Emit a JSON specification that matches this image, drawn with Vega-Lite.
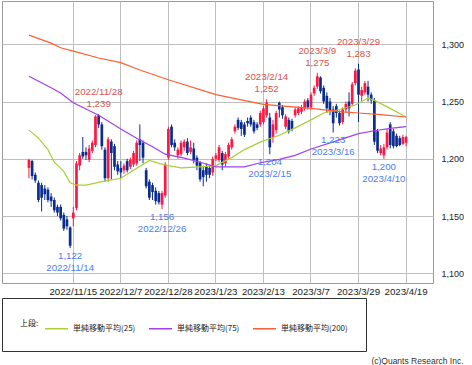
{
  "$schema": "https://vega.github.io/schema/vega-lite/v6.json",
  "width": 431,
  "height": 282,
  "padding": {"left": 1, "top": 1, "right": 0, "bottom": 0},
  "background": "white",
  "config": {
    "view": {"stroke": "#9a9a9a", "strokeWidth": 1},
    "font": "Liberation Sans"
  },
  "title": {
    "text": "(c)Quants Research Inc.",
    "orient": "bottom",
    "anchor": "end",
    "fontSize": 8.5,
    "fontWeight": "normal",
    "color": "#333333",
    "offset": 5
  },
  "datasets": {
    "candles": [
      {"d": "2022/10/25", "o": 1192, "h": 1200, "l": 1183, "c": 1199},
      {"d": "2022/10/26", "o": 1198, "h": 1199, "l": 1182, "c": 1185},
      {"d": "2022/10/27", "o": 1186, "h": 1188, "l": 1179, "c": 1181},
      {"d": "2022/10/28", "o": 1179, "h": 1181, "l": 1162, "c": 1164},
      {"d": "2022/10/31", "o": 1177, "h": 1179, "l": 1154, "c": 1166},
      {"d": "2022/11/1", "o": 1174, "h": 1177, "l": 1164, "c": 1169},
      {"d": "2022/11/2", "o": 1173, "h": 1175, "l": 1162, "c": 1164},
      {"d": "2022/11/4", "o": 1167, "h": 1170, "l": 1158, "c": 1163},
      {"d": "2022/11/7", "o": 1164, "h": 1166, "l": 1153, "c": 1155},
      {"d": "2022/11/8", "o": 1158, "h": 1160, "l": 1150, "c": 1153},
      {"d": "2022/11/9", "o": 1158, "h": 1160, "l": 1146, "c": 1148},
      {"d": "2022/11/10", "o": 1151, "h": 1153, "l": 1137, "c": 1139},
      {"d": "2022/11/11", "o": 1147, "h": 1150, "l": 1138, "c": 1141},
      {"d": "2022/11/14", "o": 1140, "h": 1141, "l": 1122, "c": 1124},
      {"d": "2022/11/15", "o": 1148, "h": 1158, "l": 1141, "c": 1153},
      {"d": "2022/11/16", "o": 1157, "h": 1198, "l": 1155, "c": 1196},
      {"d": "2022/11/17", "o": 1194, "h": 1205, "l": 1190, "c": 1203},
      {"d": "2022/11/18", "o": 1206, "h": 1219, "l": 1200, "c": 1202},
      {"d": "2022/11/21", "o": 1206, "h": 1210, "l": 1199, "c": 1203},
      {"d": "2022/11/22", "o": 1199, "h": 1212, "l": 1197, "c": 1209},
      {"d": "2022/11/24", "o": 1207, "h": 1216, "l": 1205, "c": 1214},
      {"d": "2022/11/25", "o": 1212, "h": 1238, "l": 1210, "c": 1237},
      {"d": "2022/11/28", "o": 1238, "h": 1239, "l": 1227, "c": 1230},
      {"d": "2022/11/29", "o": 1230, "h": 1232, "l": 1208, "c": 1211},
      {"d": "2022/11/30", "o": 1208, "h": 1210, "l": 1180, "c": 1183},
      {"d": "2022/12/1", "o": 1183, "h": 1219, "l": 1180, "c": 1217},
      {"d": "2022/12/2", "o": 1215, "h": 1217, "l": 1182, "c": 1205},
      {"d": "2022/12/5", "o": 1211, "h": 1213, "l": 1190, "c": 1193},
      {"d": "2022/12/6", "o": 1195, "h": 1198, "l": 1186, "c": 1189},
      {"d": "2022/12/7", "o": 1192, "h": 1198, "l": 1183, "c": 1188},
      {"d": "2022/12/8", "o": 1190, "h": 1196, "l": 1187, "c": 1194},
      {"d": "2022/12/9", "o": 1198, "h": 1200, "l": 1188, "c": 1190},
      {"d": "2022/12/12", "o": 1193, "h": 1201, "l": 1191, "c": 1199},
      {"d": "2022/12/13", "o": 1195, "h": 1207, "l": 1193, "c": 1205},
      {"d": "2022/12/14", "o": 1196, "h": 1216, "l": 1194, "c": 1214},
      {"d": "2022/12/15", "o": 1217, "h": 1230, "l": 1198, "c": 1212},
      {"d": "2022/12/16", "o": 1214, "h": 1216, "l": 1196, "c": 1201},
      {"d": "2022/12/19", "o": 1190, "h": 1192, "l": 1174, "c": 1176},
      {"d": "2022/12/20", "o": 1180, "h": 1182, "l": 1164, "c": 1166},
      {"d": "2022/12/21", "o": 1177, "h": 1179, "l": 1164, "c": 1171},
      {"d": "2022/12/22", "o": 1172, "h": 1175, "l": 1160, "c": 1163},
      {"d": "2022/12/23", "o": 1170, "h": 1172, "l": 1160, "c": 1162},
      {"d": "2022/12/26", "o": 1160, "h": 1172, "l": 1156, "c": 1170},
      {"d": "2022/12/27", "o": 1168, "h": 1197, "l": 1166, "c": 1195},
      {"d": "2022/12/28", "o": 1201, "h": 1228, "l": 1199, "c": 1226},
      {"d": "2022/12/29", "o": 1228, "h": 1230, "l": 1210, "c": 1212},
      {"d": "2022/12/30", "o": 1214, "h": 1217, "l": 1207, "c": 1210},
      {"d": "2023/1/4", "o": 1203, "h": 1210, "l": 1200, "c": 1208},
      {"d": "2023/1/5", "o": 1204, "h": 1216, "l": 1202, "c": 1214},
      {"d": "2023/1/6", "o": 1210, "h": 1217, "l": 1207, "c": 1215},
      {"d": "2023/1/10", "o": 1215, "h": 1218, "l": 1203, "c": 1205},
      {"d": "2023/1/11", "o": 1206, "h": 1216, "l": 1204, "c": 1210},
      {"d": "2023/1/12", "o": 1209, "h": 1214, "l": 1196, "c": 1199},
      {"d": "2023/1/13", "o": 1201, "h": 1203, "l": 1190, "c": 1194},
      {"d": "2023/1/16", "o": 1197, "h": 1198, "l": 1180, "c": 1182},
      {"d": "2023/1/17", "o": 1190, "h": 1194, "l": 1176, "c": 1184},
      {"d": "2023/1/18", "o": 1193, "h": 1196, "l": 1180, "c": 1186},
      {"d": "2023/1/19", "o": 1192, "h": 1194, "l": 1183, "c": 1186},
      {"d": "2023/1/20", "o": 1188, "h": 1202, "l": 1185, "c": 1200},
      {"d": "2023/1/23", "o": 1200, "h": 1205, "l": 1198, "c": 1203},
      {"d": "2023/1/24", "o": 1199, "h": 1212, "l": 1197, "c": 1210},
      {"d": "2023/1/25", "o": 1205, "h": 1207, "l": 1190, "c": 1195},
      {"d": "2023/1/26", "o": 1196, "h": 1206, "l": 1193, "c": 1204},
      {"d": "2023/1/27", "o": 1202, "h": 1214, "l": 1200, "c": 1212},
      {"d": "2023/1/30", "o": 1210, "h": 1219, "l": 1208, "c": 1217},
      {"d": "2023/1/31", "o": 1224, "h": 1230, "l": 1222, "c": 1228},
      {"d": "2023/2/1", "o": 1234, "h": 1236, "l": 1225, "c": 1227},
      {"d": "2023/2/2", "o": 1232, "h": 1234, "l": 1220, "c": 1226},
      {"d": "2023/2/3", "o": 1230, "h": 1232, "l": 1219, "c": 1221},
      {"d": "2023/2/6", "o": 1233, "h": 1236, "l": 1228, "c": 1231},
      {"d": "2023/2/7", "o": 1236, "h": 1238, "l": 1228, "c": 1230},
      {"d": "2023/2/8", "o": 1232, "h": 1234, "l": 1222, "c": 1224},
      {"d": "2023/2/9", "o": 1230, "h": 1232, "l": 1225, "c": 1227},
      {"d": "2023/2/10", "o": 1230, "h": 1242, "l": 1228, "c": 1240},
      {"d": "2023/2/13", "o": 1232, "h": 1246, "l": 1230, "c": 1244},
      {"d": "2023/2/14", "o": 1238, "h": 1252, "l": 1236, "c": 1249},
      {"d": "2023/2/15", "o": 1236, "h": 1240, "l": 1204, "c": 1210},
      {"d": "2023/2/16", "o": 1219, "h": 1234, "l": 1214, "c": 1230},
      {"d": "2023/2/17", "o": 1225, "h": 1242, "l": 1222, "c": 1240},
      {"d": "2023/2/20", "o": 1249, "h": 1250, "l": 1236, "c": 1243},
      {"d": "2023/2/21", "o": 1245, "h": 1247, "l": 1235, "c": 1238},
      {"d": "2023/2/22", "o": 1228, "h": 1239, "l": 1226, "c": 1237},
      {"d": "2023/2/24", "o": 1234, "h": 1236, "l": 1222, "c": 1224},
      {"d": "2023/2/27", "o": 1233, "h": 1235, "l": 1224, "c": 1226},
      {"d": "2023/2/28", "o": 1238, "h": 1245, "l": 1236, "c": 1243},
      {"d": "2023/3/1", "o": 1240, "h": 1246, "l": 1238, "c": 1244},
      {"d": "2023/3/2", "o": 1241, "h": 1247, "l": 1239, "c": 1245},
      {"d": "2023/3/3", "o": 1244, "h": 1252, "l": 1242, "c": 1250},
      {"d": "2023/3/6", "o": 1251, "h": 1253, "l": 1243, "c": 1245},
      {"d": "2023/3/7", "o": 1245, "h": 1258, "l": 1243, "c": 1256},
      {"d": "2023/3/8", "o": 1257, "h": 1264, "l": 1255, "c": 1262},
      {"d": "2023/3/9", "o": 1263, "h": 1275, "l": 1261, "c": 1272},
      {"d": "2023/3/10", "o": 1271, "h": 1272, "l": 1257, "c": 1259},
      {"d": "2023/3/13", "o": 1262, "h": 1264, "l": 1248, "c": 1250},
      {"d": "2023/3/14", "o": 1255, "h": 1258, "l": 1240, "c": 1244},
      {"d": "2023/3/15", "o": 1250, "h": 1253, "l": 1238, "c": 1242},
      {"d": "2023/3/16", "o": 1243, "h": 1246, "l": 1223, "c": 1231},
      {"d": "2023/3/17", "o": 1246, "h": 1248, "l": 1236, "c": 1240},
      {"d": "2023/3/20", "o": 1240, "h": 1242, "l": 1229, "c": 1231},
      {"d": "2023/3/22", "o": 1232, "h": 1245, "l": 1230, "c": 1243},
      {"d": "2023/3/23", "o": 1243, "h": 1250, "l": 1240, "c": 1248},
      {"d": "2023/3/24", "o": 1250, "h": 1258, "l": 1237, "c": 1244},
      {"d": "2023/3/27", "o": 1248, "h": 1267, "l": 1246, "c": 1265},
      {"d": "2023/3/28", "o": 1266, "h": 1279, "l": 1264, "c": 1277},
      {"d": "2023/3/29", "o": 1278, "h": 1283, "l": 1232, "c": 1256},
      {"d": "2023/3/30", "o": 1255, "h": 1263, "l": 1250, "c": 1260},
      {"d": "2023/3/31", "o": 1258, "h": 1268, "l": 1256, "c": 1266},
      {"d": "2023/4/3", "o": 1263, "h": 1268, "l": 1250, "c": 1256},
      {"d": "2023/4/4", "o": 1256, "h": 1258, "l": 1248, "c": 1251},
      {"d": "2023/4/5", "o": 1251, "h": 1253, "l": 1212, "c": 1215},
      {"d": "2023/4/6", "o": 1224, "h": 1226, "l": 1205, "c": 1207},
      {"d": "2023/4/7", "o": 1205, "h": 1212, "l": 1203, "c": 1209},
      {"d": "2023/4/10", "o": 1203, "h": 1213, "l": 1200, "c": 1210},
      {"d": "2023/4/11", "o": 1210, "h": 1226, "l": 1208, "c": 1223},
      {"d": "2023/4/12", "o": 1230, "h": 1232, "l": 1209, "c": 1212},
      {"d": "2023/4/13", "o": 1224, "h": 1226, "l": 1209, "c": 1211},
      {"d": "2023/4/14", "o": 1220, "h": 1222, "l": 1210, "c": 1211},
      {"d": "2023/4/17", "o": 1218, "h": 1220, "l": 1211, "c": 1212},
      {"d": "2023/4/18", "o": 1213, "h": 1221, "l": 1212, "c": 1219},
      {"d": "2023/4/19", "o": 1214, "h": 1220, "l": 1211, "c": 1219}
    ],
    "ma": [
      {"s": "単純移動平均(25)", "d": "2022/10/25", "v": 1225},
      {"s": "単純移動平均(25)", "d": "2022/10/28", "v": 1218},
      {"s": "単純移動平均(25)", "d": "2022/11/2", "v": 1208},
      {"s": "単純移動平均(25)", "d": "2022/11/7", "v": 1197},
      {"s": "単純移動平均(25)", "d": "2022/11/10", "v": 1189},
      {"s": "単純移動平均(25)", "d": "2022/11/14", "v": 1179},
      {"s": "単純移動平均(25)", "d": "2022/11/16", "v": 1177},
      {"s": "単純移動平均(25)", "d": "2022/11/21", "v": 1177},
      {"s": "単純移動平均(25)", "d": "2022/11/29", "v": 1180},
      {"s": "単純移動平均(25)", "d": "2022/12/7", "v": 1183},
      {"s": "単純移動平均(25)", "d": "2022/12/13", "v": 1190},
      {"s": "単純移動平均(25)", "d": "2022/12/20", "v": 1198.5},
      {"s": "単純移動平均(25)", "d": "2022/12/23", "v": 1196},
      {"s": "単純移動平均(25)", "d": "2022/12/28", "v": 1194},
      {"s": "単純移動平均(25)", "d": "2023/1/5", "v": 1192},
      {"s": "単純移動平均(25)", "d": "2023/1/16", "v": 1193},
      {"s": "単純移動平均(25)", "d": "2023/1/23", "v": 1194},
      {"s": "単純移動平均(25)", "d": "2023/1/30", "v": 1201},
      {"s": "単純移動平均(25)", "d": "2023/2/3", "v": 1208},
      {"s": "単純移動平均(25)", "d": "2023/2/10", "v": 1214.5},
      {"s": "単純移動平均(25)", "d": "2023/2/20", "v": 1220.5},
      {"s": "単純移動平均(25)", "d": "2023/2/28", "v": 1227},
      {"s": "単純移動平均(25)", "d": "2023/3/7", "v": 1234},
      {"s": "単純移動平均(25)", "d": "2023/3/13", "v": 1240},
      {"s": "単純移動平均(25)", "d": "2023/3/20", "v": 1243},
      {"s": "単純移動平均(25)", "d": "2023/3/28", "v": 1247},
      {"s": "単純移動平均(25)", "d": "2023/4/3", "v": 1253},
      {"s": "単純移動平均(25)", "d": "2023/4/5", "v": 1251},
      {"s": "単純移動平均(25)", "d": "2023/4/12", "v": 1244},
      {"s": "単純移動平均(25)", "d": "2023/4/19", "v": 1236.5},
      {"s": "単純移動平均(75)", "d": "2022/10/25", "v": 1272},
      {"s": "単純移動平均(75)", "d": "2022/11/4", "v": 1262},
      {"s": "単純移動平均(75)", "d": "2022/11/9", "v": 1257.5},
      {"s": "単純移動平均(75)", "d": "2022/11/15", "v": 1249},
      {"s": "単純移動平均(75)", "d": "2022/11/28", "v": 1238},
      {"s": "単純移動平均(75)", "d": "2022/12/7", "v": 1226},
      {"s": "単純移動平均(75)", "d": "2022/12/14", "v": 1218},
      {"s": "単純移動平均(75)", "d": "2022/12/21", "v": 1210.5},
      {"s": "単純移動平均(75)", "d": "2022/12/27", "v": 1204},
      {"s": "単純移動平均(75)", "d": "2023/1/6", "v": 1200.5},
      {"s": "単純移動平均(75)", "d": "2023/1/16", "v": 1197},
      {"s": "単純移動平均(75)", "d": "2023/1/23", "v": 1193},
      {"s": "単純移動平均(75)", "d": "2023/2/3", "v": 1193},
      {"s": "単純移動平均(75)", "d": "2023/2/10", "v": 1196.5},
      {"s": "単純移動平均(75)", "d": "2023/2/20", "v": 1199.5},
      {"s": "単純移動平均(75)", "d": "2023/2/28", "v": 1203},
      {"s": "単純移動平均(75)", "d": "2023/3/7", "v": 1208.5},
      {"s": "単純移動平均(75)", "d": "2023/3/20", "v": 1216.5},
      {"s": "単純移動平均(75)", "d": "2023/3/29", "v": 1222},
      {"s": "単純移動平均(75)", "d": "2023/4/5", "v": 1224.5},
      {"s": "単純移動平均(75)", "d": "2023/4/12", "v": 1226.5},
      {"s": "単純移動平均(75)", "d": "2023/4/19", "v": 1228},
      {"s": "単純移動平均(200)", "d": "2022/10/25", "v": 1308},
      {"s": "単純移動平均(200)", "d": "2022/11/4", "v": 1301},
      {"s": "単純移動平均(200)", "d": "2022/11/9", "v": 1297},
      {"s": "単純移動平均(200)", "d": "2022/11/15", "v": 1294},
      {"s": "単純移動平均(200)", "d": "2022/11/28", "v": 1288},
      {"s": "単純移動平均(200)", "d": "2022/12/7", "v": 1284},
      {"s": "単純移動平均(200)", "d": "2022/12/15", "v": 1277.5},
      {"s": "単純移動平均(200)", "d": "2022/12/28", "v": 1269},
      {"s": "単純移動平均(200)", "d": "2023/1/23", "v": 1256},
      {"s": "単純移動平均(200)", "d": "2023/2/2", "v": 1251.5},
      {"s": "単純移動平均(200)", "d": "2023/2/13", "v": 1247.5},
      {"s": "単純移動平均(200)", "d": "2023/3/7", "v": 1244},
      {"s": "単純移動平均(200)", "d": "2023/3/22", "v": 1241},
      {"s": "単純移動平均(200)", "d": "2023/3/29", "v": 1240},
      {"s": "単純移動平均(200)", "d": "2023/4/7", "v": 1238.5},
      {"s": "単純移動平均(200)", "d": "2023/4/19", "v": 1236.5}
    ],
    "ann": [
      {"k": "hi", "d": "2022/11/28", "v": 1239, "t": "2022/11/28\n1,239"},
      {"k": "hi", "d": "2023/2/14", "v": 1252, "t": "2023/2/14\n1,252"},
      {"k": "hi", "d": "2023/3/9", "v": 1275, "t": "2023/3/9\n1,275"},
      {"k": "hi", "d": "2023/3/29", "v": 1283, "t": "2023/3/29\n1,283"},
      {"k": "lo", "d": "2022/11/14", "v": 1122, "t": "1,122\n2022/11/14"},
      {"k": "lo", "d": "2022/12/26", "v": 1156, "t": "1,156\n2022/12/26"},
      {"k": "lo", "d": "2023/2/15", "v": 1204, "t": "1,204\n2023/2/15"},
      {"k": "lo", "d": "2023/3/16", "v": 1223, "t": "1,223\n2023/3/16"},
      {"k": "lo", "d": "2023/4/10", "v": 1200, "t": "1,200\n2023/4/10"}
    ]
  },
  "encoding": {
    "x": {
      "field": "d",
      "type": "ordinal",
      "title": null,
      "scale": {
        "paddingInner": 0,
        "paddingOuter": 0,
        "domain": ["2022/10/13","2022/10/14","2022/10/17","2022/10/18","2022/10/19","2022/10/20","2022/10/21","2022/10/24","2022/10/25","2022/10/26","2022/10/27","2022/10/28","2022/10/31","2022/11/1","2022/11/2","2022/11/4","2022/11/7","2022/11/8","2022/11/9","2022/11/10","2022/11/11","2022/11/14","2022/11/15","2022/11/16","2022/11/17","2022/11/18","2022/11/21","2022/11/22","2022/11/24","2022/11/25","2022/11/28","2022/11/29","2022/11/30","2022/12/1","2022/12/2","2022/12/5","2022/12/6","2022/12/7","2022/12/8","2022/12/9","2022/12/12","2022/12/13","2022/12/14","2022/12/15","2022/12/16","2022/12/19","2022/12/20","2022/12/21","2022/12/22","2022/12/23","2022/12/26","2022/12/27","2022/12/28","2022/12/29","2022/12/30","2023/1/4","2023/1/5","2023/1/6","2023/1/10","2023/1/11","2023/1/12","2023/1/13","2023/1/16","2023/1/17","2023/1/18","2023/1/19","2023/1/20","2023/1/23","2023/1/24","2023/1/25","2023/1/26","2023/1/27","2023/1/30","2023/1/31","2023/2/1","2023/2/2","2023/2/3","2023/2/6","2023/2/7","2023/2/8","2023/2/9","2023/2/10","2023/2/13","2023/2/14","2023/2/15","2023/2/16","2023/2/17","2023/2/20","2023/2/21","2023/2/22","2023/2/24","2023/2/27","2023/2/28","2023/3/1","2023/3/2","2023/3/3","2023/3/6","2023/3/7","2023/3/8","2023/3/9","2023/3/10","2023/3/13","2023/3/14","2023/3/15","2023/3/16","2023/3/17","2023/3/20","2023/3/22","2023/3/23","2023/3/24","2023/3/27","2023/3/28","2023/3/29","2023/3/30","2023/3/31","2023/4/3","2023/4/4","2023/4/5","2023/4/6","2023/4/7","2023/4/10","2023/4/11","2023/4/12","2023/4/13","2023/4/14","2023/4/17","2023/4/18","2023/4/19","2023/4/20","2023/4/21","2023/4/24","2023/4/25","2023/4/26","2023/4/27","2023/4/28","2023/5/1"]
      },
      "axis": {
        "values": ["2022/11/15","2022/12/7","2022/12/28","2023/1/23","2023/2/13","2023/3/7","2023/3/29","2023/4/19"],
        "grid": true,
        "gridColor": "#bfbfbf",
        "gridWidth": 1,
        "ticks": false,
        "domain": false,
        "labelAngle": 0,
        "labelOverlap": false,
        "labelFontSize": 9.7,
        "labelColor": "#222222",
        "labelPadding": 3
      }
    }
  },
  "layer": [
    {
      "data": {"name": "candles"},
      "mark": {"type": "rule", "strokeWidth": 1},
      "encoding": {
        "y": {
          "field": "l",
          "type": "quantitative",
          "title": null,
          "scale": {"domain": [1091.5, 1337.8], "nice": false, "zero": false},
          "axis": {
            "orient": "right",
            "values": [1100, 1150, 1200, 1250, 1300],
            "format": ",d",
            "grid": true,
            "gridColor": "#bfbfbf",
            "ticks": false,
            "domain": false,
            "labelFontSize": 9,
            "labelColor": "#222222",
            "labelPadding": 8
          }
        },
        "y2": {"field": "h"},
        "color": {"condition": {"test": "datum.c >= datum.o", "value": "#ff1744"}, "value": "#0b2d8f"}
      }
    },
    {
      "data": {"name": "candles"},
      "mark": {"type": "bar", "width": {"band": 0.85}},
      "encoding": {
        "y": {"field": "o", "type": "quantitative"},
        "y2": {"field": "c"},
        "color": {"condition": {"test": "datum.c >= datum.o", "value": "#ff1744"}, "value": "#0b2d8f"}
      }
    },
    {
      "data": {"name": "ma"},
      "mark": {"type": "line", "strokeWidth": 1.2},
      "encoding": {
        "y": {"field": "v", "type": "quantitative"},
        "color": {
          "field": "s",
          "type": "nominal",
          "scale": {
            "domain": ["単純移動平均(25)", "単純移動平均(75)", "単純移動平均(200)"],
            "range": ["#a8cf38", "#a040f2", "#ff5f30"]
          },
          "legend": {
            "title": "上段:",
            "orient": "bottom",
            "direction": "horizontal",
            "titleOrient": "left",
            "titleFont": "Noto Sans CJK JP",
            "titleFontSize": 8,
            "titleFontWeight": "normal",
            "titleColor": "#222222",
            "titlePadding": 5,
            "labelFont": "Noto Sans CJK JP",
            "labelFontSize": 8,
            "labelColor": "#222222",
            "symbolType": "stroke",
            "symbolSize": 529,
            "symbolStrokeWidth": 1.5,
            "columnPadding": 10,
            "padding": 18,
            "strokeColor": "#333333",
            "fillColor": "white",
            "offset": 2
          }
        }
      }
    },
    {
      "data": {"name": "ann"},
      "transform": [{"filter": "datum.k == 'hi'"}],
      "mark": {"type": "text", "baseline": "bottom", "dy": -17, "lineBreak": "\n", "lineHeight": 12, "fontSize": 9.7, "color": "#d9534f"},
      "encoding": {
        "y": {"field": "v", "type": "quantitative"},
        "text": {"field": "t"}
      }
    },
    {
      "data": {"name": "ann"},
      "transform": [{"filter": "datum.k == 'lo'"}],
      "mark": {"type": "text", "baseline": "top", "dy": 3, "lineBreak": "\n", "lineHeight": 12, "fontSize": 9.7, "color": "#4a7cf0"},
      "encoding": {
        "y": {"field": "v", "type": "quantitative"},
        "text": {"field": "t"}
      }
    }
  ]
}
